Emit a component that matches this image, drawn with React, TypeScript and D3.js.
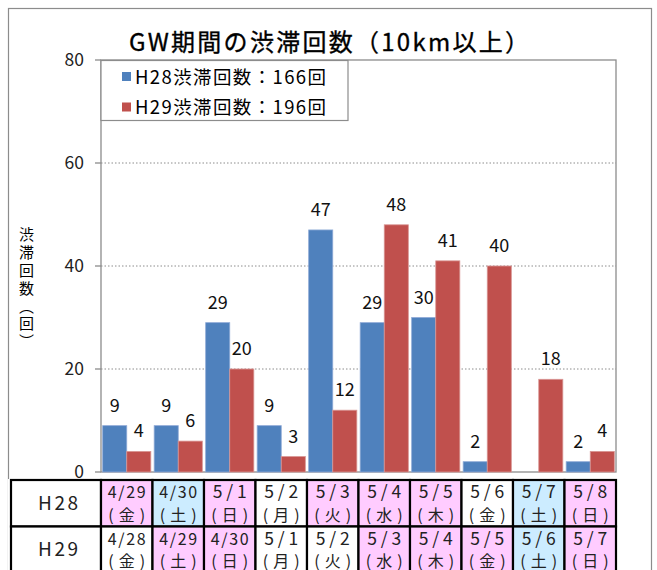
import React from "react";
import * as d3 from "d3";

const categories = ["d1", "d2", "d3", "d4", "d5", "d6", "d7", "d8", "d9", "d10"];
const seriesNames = ["H28渋滞回数：166回", "H29渋滞回数：196回"];
const h28Values = [9, 9, 29, 9, 47, 29, 30, 2, 0, 2];
const h29Values = [4, 6, 20, 3, 12, 48, 41, 40, 18, 4];
const yTicks = [0, 20, 40, 60, 80];
const rowLabels = ["H28", "H29"];
const h28Dates = ["4/29", "4/30", "5/1", "5/2", "5/3", "5/4", "5/5", "5/6", "5/7", "5/8"];
const h28Days = ["金", "土", "日", "月", "火", "水", "木", "金", "土", "日"];
const h28Kind = ["hol", "sat", "hol", "wk", "hol", "hol", "hol", "wk", "sat", "hol"];
const h29Dates = ["4/28", "4/29", "4/30", "5/1", "5/2", "5/3", "5/4", "5/5", "5/6", "5/7"];
const h29Days = ["金", "土", "日", "月", "火", "水", "木", "金", "土", "日"];
const h29Kind = ["wk", "hol", "hol", "wk", "wk", "hol", "hol", "hol", "sat", "hol"];
const yTitle = "渋滞回数（回）";
const chartTitle = "GW期間の渋滞回数（10km以上）";

const FONT = "'Noto Sans CJK JP', 'Noto Sans', sans-serif";
const colors = ["#4F81BD", "#C0504D"];
const strokes = ["#8EA9D6", "#D99694"];
const kindFill: Record<string, string> = { hol: "#FFCCFF", sat: "#CCECFF", wk: "#FFFFFF" };

export default function App() {
  const W = 657, H = 570;
  const left = 101, right = 616, top = 60, bottom = 472;
  const x0 = d3.scaleBand<string>().domain(categories).range([left, right]).paddingInner(0.065).paddingOuter(0.0325);
  const x1 = d3.scaleBand<number>().domain([0, 1]).range([0, x0.bandwidth()]);
  const y = d3.scaleLinear().domain([0, 80]).range([bottom, top]);
  const series = [h28Values, h29Values];
  const step = x0.step();
  const colLeft = (i: number) => left + i * step;

  const tableTop = 480;
  const rowH = 46.5;
  const tableLeft = 11;
  const rows = [
    { dates: h28Dates, days: h28Days, kinds: h28Kind },
    { dates: h29Dates, days: h29Days, kinds: h29Kind },
  ];

  return (
    <svg width={W} height={H} style={{ position: "absolute", left: 0, top: 0, background: "#fff" }} fontFamily={FONT}>
      <rect x={0} y={0} width={W} height={H} fill="#fff" />
      {/* outer chart border */}
      <rect x={8.5} y={8.5} width={643} height={600} fill="#fff" stroke="#8c8c8c" strokeWidth={1.2} />

      {/* title */}
      <text x={129} y={50.5} fontSize={24} fill="#000" stroke="#000" strokeWidth={0.35} textLength={400} lengthAdjust="spacing">
        {chartTitle}
      </text>

      {/* gridlines */}
      {yTicks.filter((t) => t > 0 && t < 80).map((t) => (
        <line key={t} x1={left} x2={right} y1={y(t)} y2={y(t)} stroke="#8c8c8c" strokeWidth={1} strokeDasharray="1.5,2" />
      ))}

      {/* plot border */}
      <rect x={left} y={top} width={right - left} height={bottom - top} fill="none" stroke="#8c8c8c" strokeWidth={1.3} />

      {/* y ticks and labels */}
      {yTicks.map((t) => (
        <g key={t}>
          <line x1={95} x2={left} y1={y(t)} y2={y(t)} stroke="#8c8c8c" strokeWidth={1.3} />
          <text x={84} y={y(t)} dy="0.36em" textAnchor="end" fontSize={17.5} fill="#222">
            {t}
          </text>
        </g>
      ))}

      {/* y axis title (vertical) */}
      <text x={26.5} y={227} fontSize={15} fill="#000" style={{ writingMode: "vertical-rl" }} textLength={122} lengthAdjust="spacing">
        {yTitle}
      </text>

      {/* bars */}
      {categories.map((c, i) => (
        <g key={c} transform={`translate(${x0(c)},0)`}>
          {series.map((vals, s) => {
            const v = vals[i];
            const bx = x1(s) as number;
            const bw = x1.bandwidth();
            return (
              <g key={s}>
                {v > 0 && (
                  <rect x={bx} y={y(v)} width={bw} height={y(0) - y(v)} fill={colors[s]} stroke={strokes[s]} strokeWidth={0.8} />
                )}
                {v > 0 && (
                  <text x={bx + bw / 2} y={y(v) - 14} textAnchor="middle" fontSize={18} fill="#111">
                    {v}
                  </text>
                )}
              </g>
            );
          })}
        </g>
      ))}

      {/* legend */}
      <rect x={101} y={60.5} width={247} height={60} fill="#fff" stroke="#8c8c8c" strokeWidth={1.2} />
      {seriesNames.map((n, s) => (
        <g key={s}>
          <rect x={122} y={72 + s * 30.5} width={9} height={9} fill={colors[s]} />
          <text x={135} y={83.5 + s * 30} fontSize={18.5} fill="#000" textLength={191} lengthAdjust="spacing">
            {n}
          </text>
        </g>
      ))}

      {/* table */}
      <rect x={8} y={tableTop - 1} width={612} height={H - tableTop + 2} fill="#fff" />
      {rows.map((r, ri) => {
        const ry = tableTop + ri * rowH;
        return (
          <g key={ri}>
            <rect x={tableLeft} y={ry} width={left - tableLeft} height={rowH} fill="#fff" stroke="#000" strokeWidth={2.2} />
            <text x={58} y={ry + 29.5} textAnchor="middle" fontSize={19} fill="#222" textLength={40} lengthAdjust="spacing">
              {rowLabels[ri]}
            </text>
            {categories.map((c, i) => {
              const cx = colLeft(i);
              const mid = cx + step / 2;
              const d = r.dates[i];
              const long = d.length >= 4;
              return (
                <g key={c}>
                  <rect x={cx} y={ry} width={step} height={rowH} fill={kindFill[r.kinds[i]]} stroke="#000" strokeWidth={2.2} />
                  <text x={mid - (long ? 19 : 17)} y={ry + 18} fontSize={long ? 16 : 17.5} fill="#222" textLength={long ? 38 : 34} lengthAdjust="spacing">
                    {d}
                  </text>
                  <text x={mid - 18.5} y={ry + 40.5} fontSize={16} fill="#222" textLength={37} lengthAdjust="spacing">
                    {`(${r.days[i]})`}
                  </text>
                </g>
              );
            })}
          </g>
        );
      })}
    </svg>
  );
}
